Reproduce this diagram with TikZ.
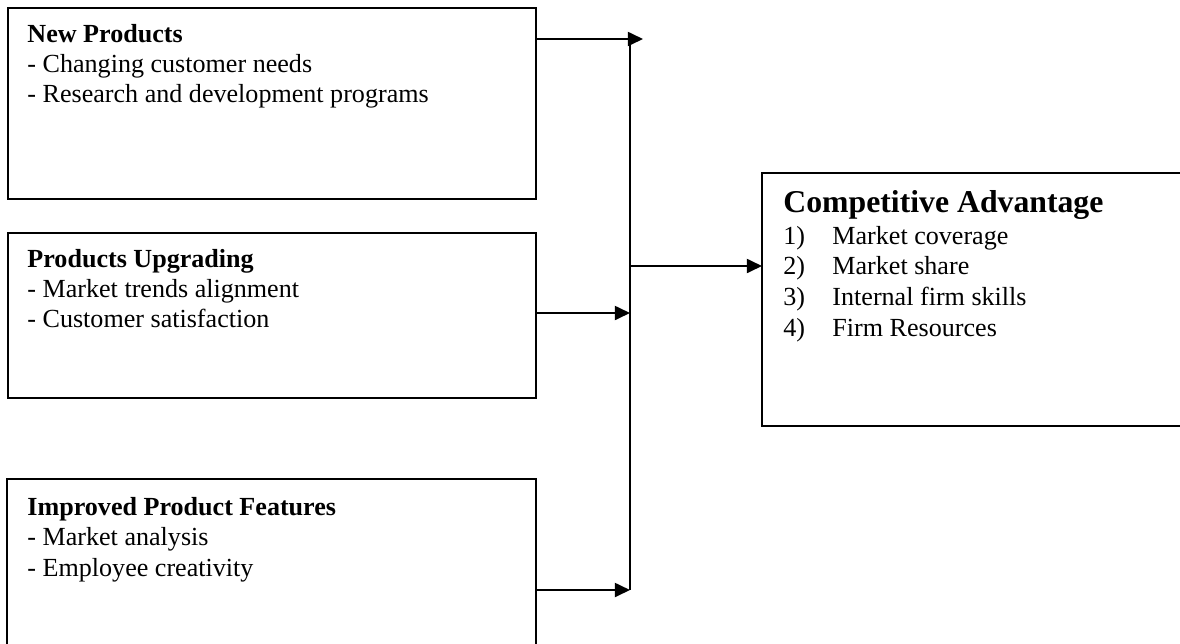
\documentclass[tikz,border=0pt]{standalone}
\usepackage{fontspec}
\setmainfont{Liberation Serif}
\usetikzlibrary{arrows.meta}
\begin{document}
\begin{tikzpicture}[x=0.46pt,y=-0.46pt,
  box/.style={draw=black,line width=0.9pt,rectangle,inner sep=0pt,anchor=north west},
  frame/.style={rectangle,inner sep=0pt,anchor=north west},
  edge/.style={line width=0.9pt},
  txt/.style={anchor=base west,inner sep=0pt,font=\fontsize{12pt}{13.8pt}\selectfont},
  hd/.style={txt,font=\fontsize{12pt}{13.8pt}\selectfont\bfseries},
  bighd/.style={txt,font=\fontsize{14.6pt}{17pt}\selectfont\bfseries},
  arr/.style={line width=0.9pt,-{Triangle[length=7pt,width=6.5pt]}}]
\useasboundingbox (0,0) rectangle (1180,643);
% boxes
\node[box,minimum width=528*0.46pt,minimum height=191*0.46pt] (b1) at (7,7) {};
\node[box,minimum width=528*0.46pt,minimum height=165*0.46pt] (b2) at (7,232) {};
\node[frame,minimum width=528*0.46pt,minimum height=170*0.46pt] (b3) at (7,479) {};
\node[frame,minimum width=424*0.46pt,minimum height=252*0.46pt] (b4) at (762,173) {};
\draw[edge] (b3.south west) -- (b3.north west) -- (b3.north east) -- (b3.south east);
\draw[edge] (b4.north east) -- (b4.north west) -- (b4.south west) -- (b4.south east);
% texts box 1
\node[hd] (t1a) at (27,42) {New Products};
\node[txt] (t1b) at (27,72) {- Changing customer needs};
\node[txt] (t1c) at (27,102) {- Research and development programs};
% texts box 2
\node[hd] (t2a) at (27,267) {Products Upgrading};
\node[txt] (t2b) at (27,297) {- Market trends alignment};
\node[txt] (t2c) at (27,327) {- Customer satisfaction};
% texts box 3
\node[hd] (t3a) at (27,515) {Improved Product Features};
\node[txt] (t3b) at (27,545) {- Market analysis};
\node[txt] (t3c) at (27,576) {- Employee creativity};
% texts box 4
\node[bighd] (t4a) at (783,212) {Competitive Advantage};
\node[txt] (n1) at (783,244) {1)};
\node[txt] (n2) at (783,274) {2)};
\node[txt] (n3) at (783,305) {3)};
\node[txt] (n4) at (783,336) {4)};
\node[txt] (i1) at (832,244) {Market coverage};
\node[txt] (i2) at (832,274) {Market share};
\node[txt] (i3) at (832,305) {Internal firm skills};
\node[txt] (i4) at (832,336) {Firm Resources};
% connectors
\coordinate (tip1) at (643,39);
\coordinate (jtop) at (630,45);
\coordinate (j2) at (630,313);
\coordinate (jm) at (630,266);
\coordinate (j3) at (630,590);
\draw[arr] (b1.east |- tip1) -- (tip1);
\draw[edge] (jtop) -- (j3);
\draw[arr] (b2.east |- j2) -- (j2);
\draw[arr] (jm) -- (b4.west |- jm);
\draw[arr] (b3.east |- j3) -- (j3);
\end{tikzpicture}
\end{document}
